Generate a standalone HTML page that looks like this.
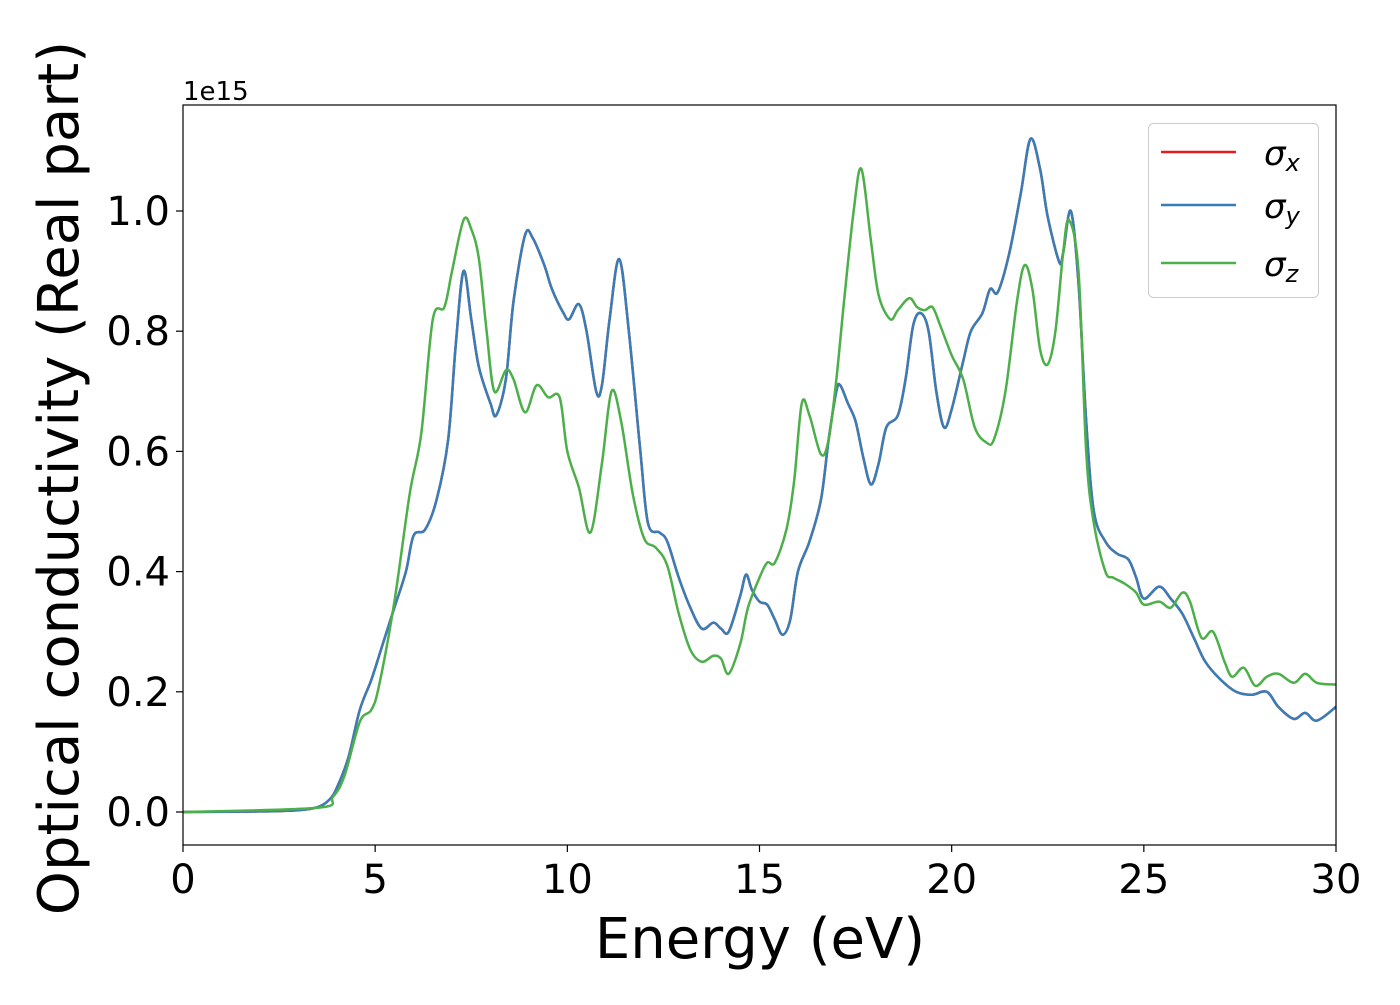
<!DOCTYPE html>
<html><head><meta charset="utf-8"><style>
body{margin:0;background:#fff}
svg text{font-family:"DejaVu Sans","Liberation Sans",sans-serif;fill:#000}
</style></head><body>
<svg width="1400" height="1000" xmlns="http://www.w3.org/2000/svg">
<g id="axes"></g>
<g id="series"></g>
<rect x="183" y="105" width="1153" height="740" fill="none" stroke="#000" stroke-width="1.2"/>
<text x="183" y="100" font-size="26">1e15</text>
<text x="760" y="958" font-size="56" text-anchor="middle">Energy (eV)</text>
<text transform="translate(78,478) rotate(-90)" font-size="56" text-anchor="middle">Optical conductivity (Real part)</text>
<g>
<rect x="1148.5" y="123.5" width="170" height="174" rx="5" fill="#fff" fill-opacity="0.8" stroke="#ccc"/>
<line x1="1161" y1="152" x2="1236" y2="152" stroke="#e41a1c" stroke-width="2.5"/>
<line x1="1161" y1="205" x2="1236" y2="205" stroke="#377eb8" stroke-width="2.5"/>
<line x1="1161" y1="263" x2="1236" y2="263" stroke="#4daf4a" stroke-width="2.5"/>
<text x="1264" y="165" font-size="34" font-style="italic">σ<tspan font-size="24" dy="6">x</tspan></text>
<text x="1264" y="218" font-size="34" font-style="italic">σ<tspan font-size="24" dy="6">y</tspan></text>
<text x="1264" y="276" font-size="34" font-style="italic">σ<tspan font-size="24" dy="6">z</tspan></text>
</g>
</svg>
<script>
const xTicks=[0,5,10,15,20,25,30];
const yTicks=[0,0.2,0.4,0.6,0.8,1.0];
const yTickLabels=["0.0","0.2","0.4","0.6","0.8","1.0"];
const energyXY=[0,2,3,3.5,3.8,4.0,4.3,4.6,4.9,5.2,5.5,5.8,6.0,6.3,6.6,6.9,7.1,7.3,7.5,7.7,8.0,8.15,8.4,8.6,8.9,9.1,9.4,9.6,9.9,10.05,10.3,10.5,10.75,10.9,11.1,11.35,11.6,11.9,12.1,12.4,12.6,12.9,13.2,13.5,13.8,14.0,14.2,14.5,14.65,14.8,15.0,15.2,15.4,15.6,15.8,16.0,16.3,16.6,16.8,17.0,17.1,17.3,17.5,17.7,17.9,18.1,18.3,18.6,18.8,19.0,19.2,19.4,19.6,19.8,20.0,20.3,20.5,20.8,21.0,21.2,21.5,21.8,22.05,22.3,22.5,22.8,22.9,23.1,23.3,23.5,23.7,24.0,24.3,24.6,24.8,25.0,25.4,25.7,26.0,26.3,26.6,27.0,27.4,27.8,28.2,28.5,28.9,29.2,29.5,30];
const sigmaXY=[0,0.001,0.003,0.008,0.02,0.04,0.09,0.17,0.22,0.28,0.34,0.40,0.46,0.47,0.52,0.62,0.78,0.90,0.82,0.74,0.68,0.66,0.72,0.85,0.96,0.955,0.91,0.87,0.83,0.82,0.845,0.80,0.70,0.71,0.82,0.92,0.80,0.60,0.48,0.465,0.45,0.39,0.34,0.305,0.315,0.305,0.30,0.36,0.395,0.37,0.35,0.345,0.32,0.295,0.32,0.40,0.45,0.52,0.62,0.70,0.71,0.68,0.65,0.59,0.545,0.58,0.64,0.66,0.72,0.81,0.83,0.80,0.70,0.64,0.67,0.75,0.80,0.83,0.87,0.865,0.93,1.03,1.12,1.07,0.99,0.915,0.93,1.0,0.88,0.65,0.50,0.45,0.43,0.42,0.39,0.355,0.375,0.355,0.33,0.29,0.25,0.22,0.20,0.195,0.20,0.175,0.155,0.165,0.152,0.175];
const energyZ=[0,3.5,3.9,4.2,4.6,4.9,5.1,5.5,5.9,6.2,6.5,6.8,7.0,7.3,7.5,7.7,7.9,8.1,8.4,8.6,8.9,9.2,9.5,9.8,10.0,10.3,10.6,10.9,11.15,11.4,11.7,12.0,12.3,12.6,12.9,13.2,13.5,13.8,14.0,14.2,14.5,14.7,15.0,15.2,15.4,15.7,15.9,16.1,16.3,16.6,16.8,17.0,17.2,17.45,17.65,17.9,18.1,18.4,18.6,18.9,19.1,19.3,19.5,19.7,20.0,20.3,20.6,20.9,21.1,21.4,21.7,21.9,22.1,22.3,22.5,22.7,22.9,23.05,23.3,23.5,23.7,24.0,24.2,24.5,24.8,25.0,25.4,25.7,26.0,26.2,26.5,26.8,27.1,27.3,27.6,27.9,28.2,28.5,28.9,29.2,29.5,30];
const sigmaZ=[0,0.007,0.025,0.06,0.15,0.17,0.21,0.35,0.53,0.63,0.82,0.84,0.90,0.985,0.97,0.92,0.80,0.70,0.735,0.72,0.665,0.71,0.69,0.69,0.60,0.54,0.465,0.58,0.70,0.65,0.53,0.455,0.44,0.41,0.33,0.27,0.25,0.26,0.255,0.23,0.28,0.34,0.39,0.415,0.415,0.47,0.55,0.68,0.66,0.595,0.62,0.72,0.85,1.0,1.07,0.95,0.86,0.82,0.835,0.855,0.84,0.835,0.84,0.81,0.76,0.72,0.64,0.615,0.62,0.70,0.85,0.91,0.87,0.77,0.745,0.80,0.93,0.985,0.90,0.60,0.48,0.40,0.39,0.38,0.365,0.345,0.35,0.34,0.365,0.35,0.29,0.30,0.25,0.225,0.24,0.21,0.225,0.23,0.215,0.23,0.215,0.212];
const NS="http://www.w3.org/2000/svg";
const X=v=>183+v*(1153/30);
const Y=v=>812-v*601;
const axes=document.getElementById('axes');
function mk(tag,attrs,parent){const e=document.createElementNS(NS,tag);for(const k in attrs)e.setAttribute(k,attrs[k]);parent.appendChild(e);return e;}
xTicks.forEach(t=>{
  const l=mk('line',{x1:X(t),x2:X(t),y1:845,y2:852,stroke:'#000','stroke-width':1.2},axes);
  
  
  const tx=mk('text',{x:X(t),y:893,'font-size':40,'text-anchor':'middle'},axes);
  tx.textContent=t;
  
  
});
yTicks.forEach((t,i)=>{
  const l=mk('line',{x1:176,x2:183,y1:Y(t),y2:Y(t),stroke:'#000','stroke-width':1.2},axes);
  
  
  const tx=mk('text',{x:170,y:Y(t)+14,'font-size':40,'text-anchor':'end'},axes);
  tx.textContent=yTickLabels[i];
  
  
});
function pathFor(xs,ys){
  const p=xs.map((x,i)=>[X(x),Y(ys[i])]);
  let d='M'+p[0][0]+','+p[0][1];
  for(let i=0;i<p.length-1;i++){
    const p0=p[Math.max(i-1,0)],p1=p[i],p2=p[i+1],p3=p[Math.min(i+2,p.length-1)];
    const c1x=p1[0]+(p2[0]-p0[0])/6,c1y=p1[1]+(p2[1]-p0[1])/6;
    const c2x=p2[0]-(p3[0]-p1[0])/6,c2y=p2[1]-(p3[1]-p1[1])/6;
    d+=` C${c1x},${c1y} ${c2x},${c2y} ${p2[0]},${p2[1]}`;
  }
  return d;
}
const series=document.getElementById('series');
const lx=mk('path',{d:pathFor(energyXY,sigmaXY),fill:'none',stroke:'#e41a1c','stroke-width':2.5},series);


const ly=mk('path',{d:pathFor(energyXY,sigmaXY),fill:'none',stroke:'#377eb8','stroke-width':2.5},series);


const lz=mk('path',{d:pathFor(energyZ,sigmaZ),fill:'none',stroke:'#4daf4a','stroke-width':2.5},series);


</script>
</body></html>
